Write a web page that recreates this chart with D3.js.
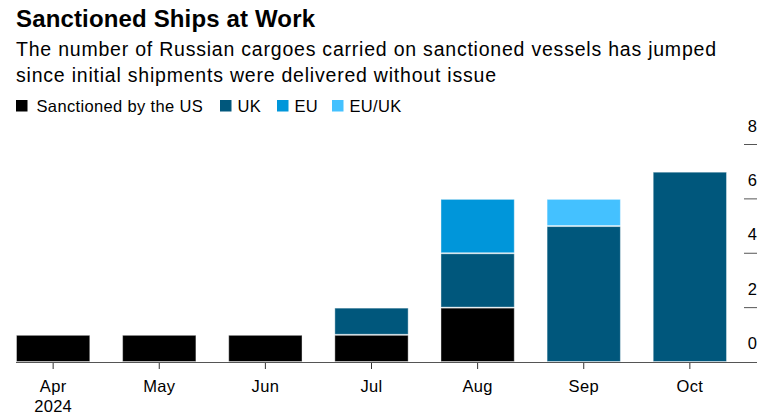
<!DOCTYPE html>
<html>
<head>
<meta charset="utf-8">
<script src="https://cdn.jsdelivr.net/npm/d3@7/dist/d3.min.js"></script>
<style>
  html, body { margin: 0; padding: 0; background: #fff; }
  svg { display: block; font-family: "Liberation Sans", Arial, Helvetica, sans-serif; }
</style>
</head>
<body>
<svg id="chart" width="775" height="420"></svg>
<script>
// ---- data ----
const months = ["Apr", "May", "Jun", "Jul", "Aug", "Sep", "Oct"];
const seriesNames = ["Sanctioned by the US", "UK", "EU", "EU/UK"];
const usValues   = [1, 1, 1, 1, 2, 0, 0];
const ukValues   = [0, 0, 0, 1, 2, 5, 7];
const euValues   = [0, 0, 0, 0, 2, 0, 0];
const euukValues = [0, 0, 0, 0, 0, 1, 0];
const yTicks = [0, 2, 4, 6, 8];
const colors = ["#000000", "#00577c", "#0096da", "#44c1ff"];

const title = "Sanctioned Ships at Work";
const subtitle = ["The number of Russian cargoes carried on sanctioned vessels has jumped",
                  "since initial shipments were delivered without issue"];

// ---- build table ----
const keys = ["us", "uk", "eu", "euuk"];
const table = months.map((m, i) => ({
  month: m, us: usValues[i], uk: ukValues[i], eu: euValues[i], euuk: euukValues[i]
}));
const stacked = d3.stack().keys(keys)(table);

const svg = d3.select("#chart");

// fit a text element to a target width by adjusting letter spacing
function fitWidth(sel, target) {
  const w = sel.node().getComputedTextLength();
  const n = sel.text().length;
  if (n > 1) sel.attr("letter-spacing", (target - w) / (n - 1));
  return sel;
}

// ---- titles ----
fitWidth(svg.append("text").attr("x", 16).attr("y", 27)
  .attr("font-size", 24).attr("font-weight", "bold").attr("fill", "#000")
  .text(title), 299);
const subW = [700, 480];
subtitle.forEach((s, i) => {
  const t = svg.append("text").attr("x", 16).attr("y", 56 + i * 26)
    .attr("font-size", 19.5).attr("fill", "#000").text(s);
  fitWidth(t, subW[i]);
});

// ---- legend ----
const legendX = [16, 220, 277, 332];
seriesNames.forEach((name, i) => {
  const g = svg.append("g").attr("transform", `translate(${legendX[i]},0)`);
  g.append("rect").attr("x", 0).attr("y", 100).attr("width", 11.5).attr("height", 11.5)
    .attr("fill", colors[i]);
  g.append("text").attr("x", i === 0 ? 20.5 : 17.5).attr("y", 112).attr("font-size", 16.5)
    .attr("letter-spacing", 0.35).attr("fill", "#000").text(name);
});

// ---- scales ----
const x = d3.scaleBand().domain(months).range([16, 727]).paddingInner(0.3).paddingOuter(0);
const y = d3.scaleLinear().domain([0, 8]).range([362, 144.5]);

// ---- bars ----
svg.append("g").selectAll("g").data(stacked).join("g")
  .attr("fill", (d, i) => colors[i])
  .selectAll("rect").data(d => d.filter(p => p[1] > p[0])).join("rect")
  .attr("x", d => x(d.data.month) + 0.5)
  .attr("y", d => y(d[1]) + 0.5)
  .attr("width", x.bandwidth() - 1)
  .attr("height", d => y(d[0]) - y(d[1]) - 1)
  .attr("stroke", "rgba(255,255,255,0.4)")
  .attr("stroke-width", 1);

// ---- y axis (right) ----
const yAxis = svg.append("g");
yAxis.selectAll("line").data(yTicks.filter(v => v > 0)).join("line")
  .attr("x1", 744).attr("x2", 757)
  .attr("y1", d => y(d)).attr("y2", d => y(d))
  .attr("stroke", "#555").attr("stroke-width", 1);
yAxis.selectAll("text").data(yTicks).join("text")
  .attr("x", 757).attr("y", d => y(d) - 13)
  .attr("text-anchor", "end").attr("font-size", 16.5).attr("fill", "#000")
  .text(d => d);

// ---- x axis ----
const xAxis = svg.append("g").attr("transform", `translate(0,${y(0)})`)
  .call(d3.axisBottom(x).tickSize(7).tickSizeOuter(0).tickPadding(0));
xAxis.select(".domain").remove();
xAxis.selectAll(".tick line").attr("stroke", "#333");
xAxis.selectAll(".tick text").remove();
svg.append("line").attr("x1", 16).attr("x2", 757).attr("y1", y(0) + 0.5).attr("y2", y(0) + 0.5)
  .attr("stroke", "#555").attr("stroke-width", 1.2);

const labels = svg.append("g");
months.forEach((m, i) => {
  labels.append("text").attr("x", x(m) + x.bandwidth() / 2).attr("y", 392)
    .attr("text-anchor", "middle").attr("font-size", 16.5).attr("letter-spacing", 0.3)
    .attr("fill", "#000").text(m);
});
labels.append("text").attr("x", x(months[0]) + x.bandwidth() / 2).attr("y", 412)
  .attr("text-anchor", "middle").attr("font-size", 16.5).attr("letter-spacing", 0.3)
  .attr("fill", "#000").text("2024");
</script>
</body>
</html>
